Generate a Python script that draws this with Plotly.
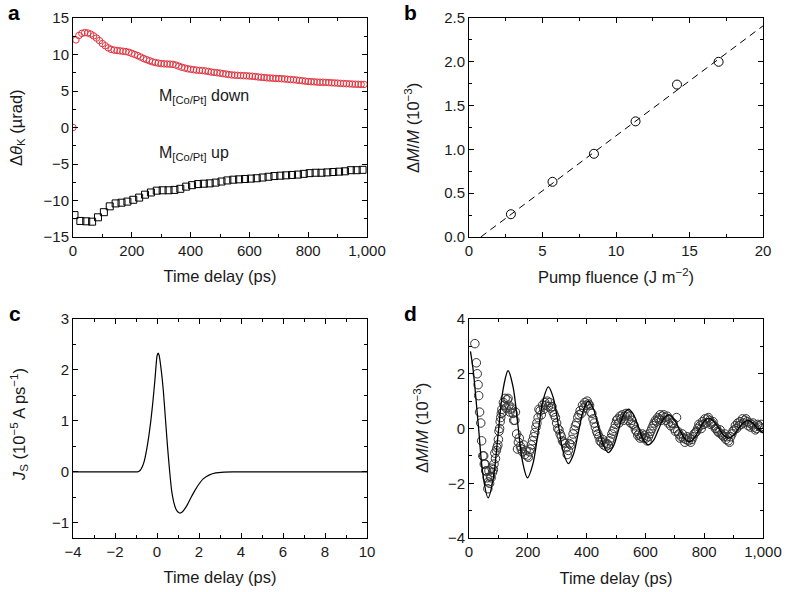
import plotly.graph_objects as go

# ---------------- Panel a data ----------------
a_down_t = [0, 10, 20, 30, 40, 50, 60, 70, 80, 90, 100, 110, 120, 130, 140, 150, 160, 170, 180, 190,
            200, 210, 220, 230, 240, 250, 260, 270, 280, 290, 300, 310, 320, 330, 340, 350, 360, 370, 380, 390,
            400, 410, 420, 430, 440, 450, 460, 470, 480, 490, 500, 510, 520, 530, 540, 550, 560, 570, 580, 590,
            600, 610, 620, 630, 640, 650, 660, 670, 680, 690, 700, 710, 720, 730, 740, 750, 760, 770, 780, 790,
            800, 810, 820, 830, 840, 850, 860, 870, 880, 890, 900, 910, 920, 930, 940, 950, 960, 970, 980, 990]
a_down_v = [0.0, 12.0, 12.6, 12.9, 13.0, 12.95, 12.8, 12.55, 12.25, 11.9, 11.5, 11.2, 10.9, 10.7, 10.6, 10.55, 10.5, 10.45, 10.4, 10.3,
            10.15, 10.0, 9.85, 9.65, 9.45, 9.3, 9.15, 9.0, 8.9, 8.82, 8.75, 8.72, 8.7, 8.68, 8.65, 8.55, 8.4, 8.25, 8.15, 8.05,
            7.98, 7.92, 7.86, 7.82, 7.8, 7.75, 7.68, 7.6, 7.55, 7.5, 7.45, 7.38, 7.32, 7.25, 7.2, 7.17, 7.15, 7.12, 7.1, 7.08,
            7.05, 7.02, 6.98, 6.92, 6.88, 6.85, 6.8, 6.78, 6.75, 6.72, 6.7, 6.68, 6.65, 6.6, 6.57, 6.55, 6.5, 6.45, 6.4, 6.35,
            6.3, 6.27, 6.25, 6.22, 6.2, 6.2, 6.18, 6.15, 6.12, 6.1, 6.08, 6.05, 6.02, 6.0, 5.98, 5.95, 5.93, 5.92, 5.9, 5.9]

a_up_t = [5, 25, 45, 65, 85, 105, 125, 145, 165, 185, 205, 225, 245, 265, 285, 305, 325, 345, 365, 385,
          405, 425, 445, 465, 485, 505, 525, 545, 565, 585, 605, 625, 645, 665, 685, 705, 725, 745, 765, 785,
          805, 825, 845, 865, 885, 905, 925, 945, 965, 985]
a_up_v = [-12.0, -12.8, -12.85, -12.9, -12.3, -11.6, -10.8, -10.4, -10.3, -10.15, -9.9, -9.6, -9.2, -8.9, -8.65, -8.6, -8.6, -8.55, -8.4, -8.1,
          -7.9, -7.75, -7.7, -7.65, -7.55, -7.4, -7.25, -7.15, -7.1, -7.05, -7.0, -6.95, -6.85, -6.75, -6.65, -6.6, -6.55, -6.5, -6.45, -6.35,
          -6.25, -6.2, -6.2, -6.15, -6.1, -6.05, -6.0, -5.85, -5.85, -5.8]

# ---------------- Panel b data ----------------
b_fluence = [2.85, 5.68, 8.5, 11.33, 14.15, 16.98]
b_dmm = [0.26, 0.63, 0.95, 1.32, 1.74, 2.0]
b_fit_x = [0.8, 20.0]
b_fit_y = [0.0, 2.41]

# ---------------- Panel c data ----------------
c_t = [-4.0, -1.0, -0.9, -0.8, -0.7, -0.6, -0.5, -0.4, -0.3, -0.2, -0.1, 0.0, 0.05, 0.1, 0.2, 0.3, 0.4, 0.5,
       0.6, 0.7, 0.8, 0.9, 1.0, 1.1, 1.2, 1.4, 1.6, 1.8, 2.0, 2.2, 2.5, 2.8, 3.2, 3.6, 4.0, 10.0]
c_js = [0.0, 0.0, 0.0, 0.03, 0.1, 0.22, 0.42, 0.67, 0.98, 1.36, 1.8, 2.27, 2.33, 2.29, 2.0, 1.6, 1.05, 0.5,
        0.02, -0.38, -0.6, -0.73, -0.79, -0.81, -0.79, -0.68, -0.52, -0.37, -0.24, -0.14, -0.06, -0.02, -0.005, 0.0, 0.0, 0.0]

# ---------------- Panel d data ----------------
d_t1 = [20, 25, 28, 31, 33, 36, 40, 43, 47, 52, 57, 62, 66, 70, 75, 80, 85, 90, 95, 100,
        104, 108, 112, 117, 123, 130, 136, 142, 150, 156, 162, 168, 175, 182, 190, 198, 205, 212, 220, 228,
        235, 242, 250, 258, 266, 274, 282, 290, 298, 306, 314, 322, 330, 338, 346, 354, 362, 370, 378, 386,
        394, 402, 410, 418, 426, 434, 442, 450, 458, 466, 474, 482, 490, 498, 506, 514, 522, 530, 538, 546,
        554, 562, 570, 578, 586, 594, 602, 610, 618, 626, 634, 642, 650, 658, 666, 674, 682, 690, 698, 706,
        714, 722, 730, 738, 746, 754, 762, 770, 778, 786, 794, 802, 810, 818, 826, 834, 842, 850, 858, 866,
        874, 882, 890, 898, 906, 914, 922, 930, 938, 946, 954, 962, 970, 978, 986, 994, 998]
d_v1 = [3.1, 2.4, 2.0, 1.6, 1.2, 0.6, 0.2, -0.45, -1.0, -1.3, -1.55, -1.8, -1.95, -2.0, -1.8, -1.6, -1.3, -1.1, -0.7, -0.4,
        0.0, 0.4, 0.7, 0.95, 1.1, 1.05, 0.85, 0.7, 0.55, 0.3, -0.2, -0.5, -0.65, -0.85, -0.95, -1.0, -0.85, -0.6, -0.3, 0.05,
        0.4, 0.65, 0.85, 0.95, 1.0, 0.95, 0.8, 0.5, 0.2, -0.05, -0.3, -0.5, -0.7, -0.8, -0.6, -0.2, 0.1, 0.4, 0.65, 0.85,
        0.95, 1.0, 0.85, 0.55, 0.2, -0.1, -0.3, -0.5, -0.6, -0.65, -0.6, -0.35, -0.1, 0.15, 0.35, 0.45, 0.5, 0.45, 0.5, 0.45,
        0.3, 0.1, -0.1, -0.2, -0.3, -0.35, -0.35, -0.3, -0.1, 0.1, 0.3, 0.4, 0.5, 0.45, 0.4, 0.45, 0.35, 0.2, 0.0, 0.4,
        -0.2, -0.3, -0.35, -0.4, -0.45, -0.5, -0.3, -0.15, 0.0, 0.1, 0.25, 0.35, 0.35, 0.3, 0.2, 0.1, 0.0, -0.15, -0.2, -0.3,
        -0.4, -0.45, -0.3, -0.1, 0.1, 0.2, 0.25, 0.35, 0.3, 0.25, 0.2, 0.15, 0.05, 0.0, 0.1, 0.15, 0.0]

d_t2 = [50, 55, 60, 64, 68, 73, 78, 83, 88, 93, 98, 102, 106, 110, 115, 120, 126, 133, 139, 145,
        152, 158, 165, 171, 178, 186, 194, 202, 209, 216, 224, 231, 238, 246, 254, 262, 270, 278, 286, 294,
        302, 310, 318, 326, 334, 342, 350, 358, 366, 374, 382, 390, 398, 406, 414, 422, 430, 438, 446, 454,
        462, 470, 478, 486, 494, 502, 510, 518, 526, 534, 542, 550, 558, 566, 574, 582, 590, 598, 606, 614,
        622, 630, 638, 646, 654, 662, 670, 678, 686, 694, 702, 710, 718, 726, 734, 742, 750, 758, 766, 774,
        782, 790, 798, 806, 814, 822, 830, 838, 846, 854, 862, 870, 878, 886, 894, 902, 910, 918, 926, 934,
        942, 950, 958, 966, 974, 982, 990]
d_v2 = [-1.0, -1.3, -1.55, -2.2, -1.55, -1.75, -1.45, -1.5, -0.9, -0.8, -0.6, -0.1, 0.25, 0.55, 0.6, 0.85, 0.75, 1.1, 0.6, 0.75,
        0.3, 0.6, -0.75, -0.35, -0.75, -0.6, -0.8, -1.05, -0.75, -0.45, -0.15, 0.2, 0.7, 0.5, 0.7, 0.85, 0.8, 0.75, 0.6, 0.4,
        0.0, -0.2, -0.45, -0.55, -0.95, -0.55, -0.4, -0.05, 0.2, 0.5, 0.55, 0.75, 0.85, 0.9, 0.6, 0.35, 0.05, -0.2, -0.45, -0.4,
        -0.5, -0.55, -0.45, -0.2, 0.0, 0.3, 0.2, 0.35, 0.3, 0.55, 0.3, 0.2, 0.15, -0.05, -0.25, -0.35, -0.2, -0.25, -0.45, -0.2,
        0.0, 0.2, 0.25, 0.35, 0.3, 0.5, 0.3, 0.2, 0.1, 0.2, -0.1, -0.1, -0.35, -0.2, -0.5, -0.3, -0.35, -0.4, -0.2, -0.1,
        0.15, 0.0, 0.15, 0.2, 0.4, 0.15, 0.25, 0.0, -0.1, -0.05, -0.25, -0.2, -0.3, -0.5, -0.2, -0.05, 0.0, 0.1, 0.15, 0.2,
        0.35, 0.1, 0.05, 0.2, -0.05, 0.15, 0.05]

d_fit_t = [5, 14, 31, 48, 65, 82, 99, 116, 133, 149.5, 166, 182.5, 199, 217, 235, 252, 270, 287, 304, 321,
           338, 355, 372, 389, 406, 423, 440, 457, 474, 491, 508, 525, 542, 559, 576, 593, 610, 627, 644, 661,
           678, 696, 714, 732, 750, 766, 782, 799, 815, 832, 849, 866, 883, 899, 915, 932, 948, 964, 981, 1000]
d_fit_v = [2.82, 2.15, 0.21, -1.73, -2.53, -1.85, -0.21, 1.43, 2.11, 1.54, 0.155, -1.23, -1.8, -1.31, -0.14, 1.03, 1.52, 1.11, 0.12, -0.87,
           -1.28, -0.95, -0.14, 0.67, 1.0, 0.72, 0.06, -0.6, -0.88, -0.65, -0.085, 0.48, 0.71, 0.52, 0.055, -0.41, -0.6, -0.44, -0.05, 0.34,
           0.5, 0.36, 0.01, -0.34, -0.48, -0.35, -0.05, 0.25, 0.38, 0.27, 0.015, -0.24, -0.35, -0.255, -0.025, 0.205, 0.3, 0.215, 0.01, -0.15]

# axis title texts
a_xtitle = "Time delay (ps)"
a_ytitle = "Δ<i>θ</i><sub>K</sub> (µrad)"
b_xtitle = "Pump fluence (J m<sup>−2</sup>)"
b_ytitle = "Δ<i>M</i>/<i>M</i> (10<sup>−3</sup>)"
c_xtitle = "Time delay (ps)"
c_ytitle = "<i>J</i><sub>S</sub> (10<sup>−5</sup> A ps<sup>−1</sup>)"
d_xtitle = "Time delay (ps)"
d_ytitle = "Δ<i>M</i>/<i>M</i> (10<sup>−3</sup>)"

# ---------------- figure ----------------
W, H = 793, 592
FONT = "Liberation Sans, Arial, Helvetica, sans-serif"
TXT = "#1a1a1a"
RED = "#e0343f"
TICK_SIZE = 15
TITLE_SIZE = 16.5


def dom_x(x0, x1):
    return [x0 / W, x1 / W]


def dom_y(y0, y1):
    return [1 - y1 / H, 1 - y0 / H]


fig = go.Figure()

# a
fig.add_trace(go.Scatter(x=a_down_t, y=a_down_v, mode="markers", xaxis="x", yaxis="y",
                         marker=dict(symbol="circle-open", size=6.5, color=RED, line=dict(width=1, color=RED)),
                         showlegend=False))
fig.add_trace(go.Scatter(x=a_up_t, y=a_up_v, mode="markers", xaxis="x", yaxis="y",
                         marker=dict(symbol="square-open", size=7, color="black", line=dict(width=1, color="black")),
                         showlegend=False))
# b
fig.add_trace(go.Scatter(x=b_fit_x, y=b_fit_y, mode="lines", xaxis="x2", yaxis="y2",
                         line=dict(color="black", width=1, dash="7px,5px"), showlegend=False))
fig.add_trace(go.Scatter(x=b_fluence, y=b_dmm, mode="markers", xaxis="x2", yaxis="y2",
                         marker=dict(symbol="circle-open", size=9, color="black", line=dict(width=1, color="black")),
                         showlegend=False))
# c
fig.add_trace(go.Scatter(x=c_t, y=c_js, mode="lines", xaxis="x3", yaxis="y3",
                         line=dict(color="black", width=1.2, shape="spline", smoothing=0.6), showlegend=False))
# d
fig.add_trace(go.Scatter(x=d_t1, y=d_v1, mode="markers", xaxis="x4", yaxis="y4",
                         marker=dict(symbol="circle-open", size=8.5, color="#333333", line=dict(width=1, color="#333333")),
                         showlegend=False))
fig.add_trace(go.Scatter(x=d_t2, y=d_v2, mode="markers", xaxis="x4", yaxis="y4",
                         marker=dict(symbol="circle-open", size=8.5, color="#333333", line=dict(width=1, color="#333333")),
                         showlegend=False))
fig.add_trace(go.Scatter(x=d_fit_t, y=d_fit_v, mode="lines", xaxis="x4", yaxis="y4",
                         line=dict(color="black", width=1.3, shape="spline", smoothing=1.0), showlegend=False))


def ax(domain, rng, dtick, minor_dtick, anchor, title=None, tickformat=None, standoff=8):
    d = dict(domain=domain, range=rng, dtick=dtick, tick0=0, anchor=anchor,
             showgrid=False, zeroline=False, showline=True, linecolor="black", linewidth=1,
             mirror="allticks", ticks="inside", ticklen=5, tickwidth=1, tickcolor="black",
             minor=dict(ticks="inside", ticklen=3, dtick=minor_dtick, tick0=0, tickcolor="black", tickwidth=1),
             tickfont=dict(family=FONT, size=TICK_SIZE, color=TXT),
             automargin=False, fixedrange=True)
    if title:
        d["title"] = dict(text=title, font=dict(family=FONT, size=TITLE_SIZE, color=TXT), standoff=standoff)
    if tickformat:
        d["tickformat"] = tickformat
    return d


XA = dom_x(73, 367)
XB = dom_x(469, 763)
YTOP = dom_y(18, 237)
YBOT = dom_y(319, 538)

layout = dict(
    width=W, height=H,
    margin=dict(l=0, r=0, t=0, b=0),
    paper_bgcolor="white", plot_bgcolor="white",
    showlegend=False,
    xaxis=ax(XA, [0, 1000], 200, 100, "y", a_xtitle, ",d", 12),
    yaxis=ax(YTOP, [-15, 15], 5, 2.5, "x"),
    xaxis2=ax(XB, [0, 20], 5, 2.5, "y2", b_xtitle, None, 13),
    yaxis2=ax(YTOP, [0, 2.5], 0.5, 0.25, "x2", None, ".1f"),
    xaxis3=ax(XA, [-4, 10], 2, 1, "y3", c_xtitle, None, 12),
    yaxis3=ax(YBOT, [-1.3, 3], 1, 0.5, "x3"),
    xaxis4=ax(XB, [0, 1000], 200, 100, "y4", d_xtitle, ",d", 13),
    yaxis4=ax(YBOT, [-4, 4], 2, 1, "x4"),
)
fig.update_layout(**layout)

# y-axis titles as rotated annotations (pixel placement)
for txt, px, py in [(a_ytitle, 17, 128), (b_ytitle, 412, 128), (c_ytitle, 19, 425), (d_ytitle, 421, 428)]:
    fig.add_annotation(x=px / W, y=1 - py / H, xref="paper", yref="paper", text=txt, textangle=-90,
                       showarrow=False, font=dict(family=FONT, size=TITLE_SIZE, color=TXT),
                       xanchor="center", yanchor="middle")

# panel letters
for lbl, px, py in [("a", 14, 13), ("b", 411, 13), ("c", 15, 313), ("d", 411, 313)]:
    fig.add_annotation(x=px / W, y=1 - py / H, xref="paper", yref="paper", text="<b>%s</b>" % lbl,
                       showarrow=False, font=dict(family=FONT, size=21, color="black"),
                       xanchor="center", yanchor="middle")

# panel a text labels
fig.add_annotation(x=285, y=4.3, xref="x", yref="y", text="M<sub>[Co/Pt]</sub> down", showarrow=False,
                   xanchor="left", yanchor="middle", font=dict(family=FONT, size=16, color=TXT))
fig.add_annotation(x=285, y=-3.6, xref="x", yref="y", text="M<sub>[Co/Pt]</sub> up", showarrow=False,
                   xanchor="left", yanchor="middle", font=dict(family=FONT, size=16, color=TXT))

fig.write_html("out.html", config={"displayModeBar": False, "staticPlot": True},
               post_script="document.body.style.margin='0';document.body.style.padding='0';")
